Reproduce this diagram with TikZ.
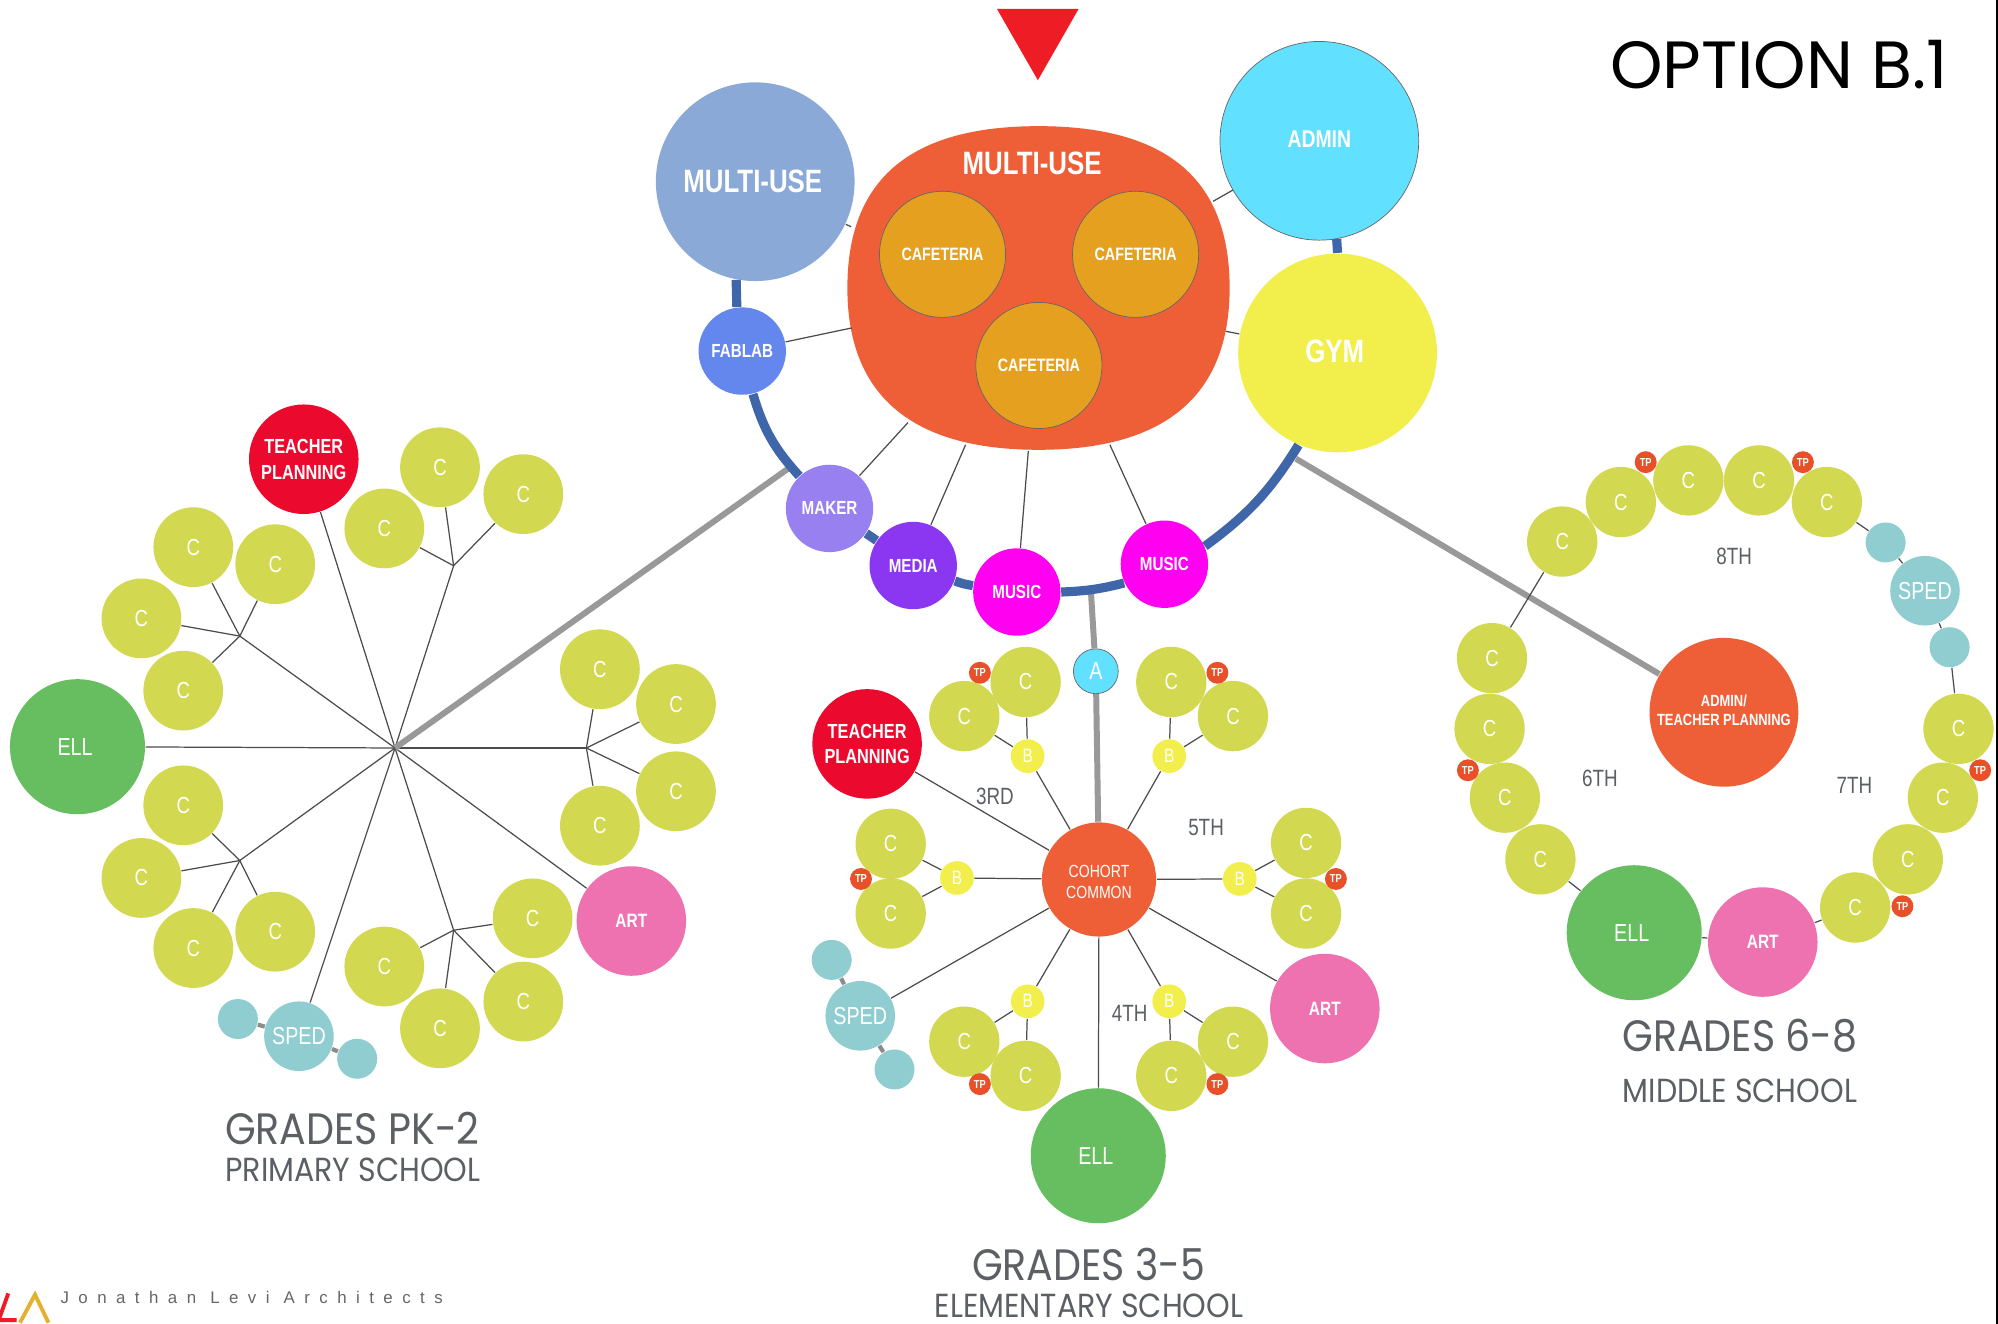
\documentclass[tikz,border=0pt]{standalone}
\usepackage{fontspec}
\setmainfont{Liberation Sans}
\newfontfamily\lblfont[FakeStretch=0.8]{Liberation Sans}
\newfontfamily\titlefont{Poppins}
\newfontfamily\gradefont[FakeStretch=0.9]{Poppins}
\newfontfamily\logofont[LetterSpace=56]{Liberation Sans}
\definecolor{cgreen}{HTML}{D2D84F}
\definecolor{ellgreen}{HTML}{66BE60}
\definecolor{artpink}{HTML}{EE72B0}
\definecolor{spedblue}{HTML}{8FCDD1}
\definecolor{planred}{HTML}{EB0A2D}
\definecolor{blobred}{HTML}{EF5F37}
\definecolor{byellow}{HTML}{F2EE4B}
\definecolor{tpred}{HTML}{E8502A}
\definecolor{cafe}{HTML}{E5A020}
\definecolor{multiblue}{HTML}{8AA9D6}
\definecolor{fabblue}{HTML}{6487EE}
\definecolor{makerpur}{HTML}{9880F0}
\definecolor{mediapur}{HTML}{8B36F0}
\definecolor{musicpink}{HTML}{FF00F0}
\definecolor{adminblue}{HTML}{62E0FF}
\definecolor{ringblue}{HTML}{3F66A8}
\definecolor{roadgrey}{HTML}{999999}
\definecolor{textgrey}{HTML}{5C6064}
\definecolor{arrowred}{HTML}{EE1C25}
\definecolor{logoyellow}{HTML}{E5B030}
\tikzset{
	rnd/.style={circle,inner sep=0pt,minimum size=#1*0.7248pt,text=white,align=center},
	lbl/.style={font=\lblfont\fontsize{#1}{#1}\selectfont},
	blbl/.style={font=\lblfont\bfseries\fontsize{#1}{#1}\selectfont},
	bigroom/.style={rnd=78,fill=#1,blbl=9.2},
	stopnode/.style={rnd=34.3,fill=#1,blbl=5.4},
	cnode/.style={rnd=31.3,fill=cgreen,lbl=6.6},
	cmid/.style={rnd=27.6,fill=cgreen,lbl=6.6},
	bnode/.style={rnd=13.2,fill=byellow,lbl=5.5},
	tpnode/.style={rnd=8.6,fill=tpred,blbl=3.3},
	cafenode/.style={rnd=49.5,fill=cafe,draw=black!60,line width=0.2pt,blbl=5.1},
	ellnode/.style={rnd=53,fill=ellgreen,lbl=7},
	artnode/.style={rnd=43,fill=artpink,blbl=5.5},
	planode/.style={rnd=43,fill=planred,font=\lblfont\bfseries\fontsize{5.8}{7.3}\selectfont},
	spednode/.style={rnd=27.3,fill=spedblue,lbl=7},
	spedsub/.style={rnd=15.7,fill=spedblue},
	gradelbl/.style={text=textgrey,lbl=6.7},
	gradetitle/.style={text=textgrey,font=\gradefont\fontsize{#1}{#1}\selectfont},
	thinline/.style={draw=black!70,line width=0.35pt},
	roadline/.style={draw=roadgrey,line width=1.7pt},
	ringline/.style={draw=ringblue,line width=2.6pt},
	spedline/.style={draw=black!45,line width=1.2pt}
}
\begin{document}
\begin{tikzpicture}[x=0.012742cm,y=-0.012742cm]
	\useasboundingbox (0,0) rectangle (1568,1039);
	\fill[white] (0,0) rectangle (1568,1039);
	\fill[black] (1566.6,0) rectangle (1568,1039);
	\fill[arrowred] (782.4,7) -- (846.5,7) -- (814.5,63) -- cycle;
	\node[text=black,font=\titlefont\fontsize{19}{19}\selectfont] (optiontitle) at (1396,51) {OPTION B.1};

	% main ring
	\fill[blobred] (815,99) .. controls (915,99) and (965,140) .. (965,226)
		.. controls (965,310) and (915,353) .. (815,353)
		.. controls (715,353) and (665,310) .. (665,226)
		.. controls (665,140) and (715,99) .. (815,99) -- cycle;
	\node[text=white,blbl=9.2] (blobtext) at (810,128) {MULTI-USE};
	\node[cafenode] (cafea) at (739.7,199.6) {CAFETERIA};
	\node[cafenode] (cafeb) at (891.2,199.6) {CAFETERIA};
	\node[cafenode] (cafec) at (815.3,286.8) {\raisebox{-0.7pt}{CAFETERIA}};
	\node[bigroom=multiblue] (multi) at (592.7,142.6) {MULTI-USE\kern1.4pt};
	\node[bigroom=adminblue,draw=black!60,line width=0.2pt,blbl=6.9] (admin) at (1035.4,110.5) {\raisebox{1pt}{ADMIN}};
	\node[bigroom=byellow] (gym) at (1049.7,277) {\raisebox{1pt}{GYM}\kern1.6pt};
	\node[stopnode=fabblue] (fablab) at (582.5,275.5) {FABLAB};
	\node[stopnode=makerpur] (maker) at (651,399) {MAKER};
	\node[stopnode=mediapur] (media) at (716.7,443.8) {MEDIA};
	\node[stopnode=musicpink] (musica) at (798,464.6) {MUSIC};
	\node[stopnode=musicpink] (musicb) at (913.8,442.8) {MUSIC};
	\coordinate (bmul) at (668,178);
	\coordinate (bfab) at (668.7,257.3);
	\coordinate (badm) at (952,158);
	\coordinate (bgym) at (962,260);
	\coordinate (bmak) at (712.6,331.6);
	\coordinate (bmed) at (757.8,349);
	\coordinate (bmua) at (807,354);
	\coordinate (bmub) at (871,349);
	\foreach \a/\b in {multi/bmul,fablab/bfab,admin/badm,gym/bgym,maker/bmak,media/bmed,musica/bmua,musicb/bmub}
	{
		\draw[thinline] (\a) -- (\b);
	}
	\coordinate (ringl) at (621,366);
	\coordinate (ringr) at (1017,360);
	\coordinate (ringm) at (856,462);

	% primary school
	\coordinate (hub) at (310,587);
	\coordinate (jtop) at (356,444);
	\coordinate (jul) at (188.2,499.2);
	\coordinate (jll) at (188.2,675.3);
	\coordinate (jbot) at (356,730);
	\coordinate (jrt) at (460.2,587);
	\foreach \n/\x/\y in {pa/301.6/414.7,pb/345.3/366.7,pc/410.7/387.8,pd/151.7/429.4,pe/216/442.8,pf/111/485.3,pg/143.8/542,ph/143.8/632,pi/111/689,pj/151.7/744,pk/216/731.2,pl/301.6/758.5,pm/345.3/807,pn/410.7/786,po/418/720.7,pq/470.8/525.2,pr/530.5/552.5,ps/530.5/621,pt/470.8/648}
	{
		\node[cnode] (\n) at (\x,\y) {C};
	}
	\node[ellnode] (pell) at (60.8,586) {ELL\kern1.4pt};
	\node[planode] (pplan) at (238.4,360.4) {TEACHER\\PLANNING};
	\node[artnode] (part) at (495.5,722.8) {ART};
	\node[spednode] (psped) at (234.6,813.2) {SPED};
	\node[spedsub] (pspa) at (186.7,799.7) {};
	\node[spedsub] (pspb) at (280.3,830.9) {};
	\foreach \a/\b in {hub/pplan,hub/jtop,hub/jul,hub/pell,hub/jll,hub/psped,hub/jbot,hub/part,hub/jrt,jtop/pa,jtop/pb,jtop/pc,jul/pd,jul/pe,jul/pf,jul/pg,jll/ph,jll/pi,jll/pj,jll/pk,jbot/pl,jbot/pm,jbot/pn,jbot/po,jrt/pq,jrt/pr,jrt/ps,jrt/pt}
	{
		\draw[thinline] (\a) -- (\b);
	}
	\draw[spedline] (psped) -- (pspa);
	\draw[spedline] (psped) -- (pspb);
	\draw[roadline] (hub) -- (ringl);
	\node[gradetitle=12.5] (pgrade) at (276.5,886) {GRADES PK-2};
	\node[gradetitle=9.5] (pname) at (276.9,918) {PRIMARY SCHOOL};

	% elementary school
	\node[rnd=44.8,fill=blobred,font=\lblfont\fontsize{5}{6}\selectfont] (cohort) at (862.5,690.2) {\rule{0pt}{5pt}COHORT\\COMMON};
	\node[rnd=17.6,fill=adminblue,draw=black!60,line width=0.2pt,lbl=7] (acirc) at (860,526.8) {A};
	\node[planode] (eplan) at (680.5,583.8) {TEACHER\\PLANNING};
	\node[ellnode] (eell) at (861.9,907) {ELL\kern1.4pt};
	\node[artnode] (eart) at (1039.7,791.5) {ART};
	\node[spednode] (esped) at (675.1,797.2) {SPED};
	\node[spedsub] (espa) at (652.7,753.3) {};
	\node[spedsub] (espb) at (702,839.3) {};
	\foreach \n/\x/\y/\ca/\xa/\ya/\cb/\xb/\yb/\xt/\yt in {
		ba/806.5/593.4/eca/804.9/535.2/ecb/756.8/562/769/528,
		bb/917.6/593.4/ecc/919.2/535.2/ecd/967.6/562/955.4/528,
		bc/751/689/ece/699/662.2/ecf/699/716.9/675.7/689.8,
		bd/973/689.8/ecg/1025/661.5/ech/1025/716.9/1048.4/689.8,
		be/806.5/785.8/eci/756.8/817.5/ecj/804.9/844.3/769/850.8,
		bf/917.6/785.8/eck/967.6/817.5/ecl/919.2/844.3/955.4/850.8}
	{
		\node[bnode] (\n) at (\x,\y) {B};
		\node[cmid] (\ca) at (\xa,\ya) {C};
		\node[cmid] (\cb) at (\xb,\yb) {C};
		\node[tpnode] (t\n) at (\xt,\yt) {TP};
		\draw[thinline] (\n) -- (\ca);
		\draw[thinline] (\n) -- (\cb);
		\draw[thinline] (cohort) -- (\n);
	}
	\foreach \b in {eplan,eell,eart,esped}
	{
		\draw[thinline] (cohort) -- (\b);
	}
	\draw[spedline] (esped) -- (espa);
	\draw[spedline] (esped) -- (espb);
	\draw[roadline] (ringm) -- (acirc);
	\draw[roadline] (acirc) -- (cohort);
	\node[gradelbl] (third) at (780.8,625) {3RD};
	\node[gradelbl] (fifth) at (946.5,649.2) {5TH};
	\node[gradelbl] (fourth) at (886.6,795.3) {4TH};
	\node[gradetitle=12.5] (egrade) at (854.5,992) {GRADES 3-5};
	\node[gradetitle=9.5] (ename) at (854.5,1024.8) {ELEMENTARY SCHOOL};

	% middle school
	\foreach \n/\x/\y in {ma/1226/425,mb/1272/394,mc/1325/377,md/1380.4/377,me/1433.7/394,mf/1170.9/516.5,mg/1169/572,mh/1181/626,mi/1208.9/674.4,mj/1537/572,mk/1524.7/626,ml/1497.2/674.4,mm/1455.9/712.2}
	{
		\node[cmid] (\n) at (\x,\y) {C};
	}
	\foreach \n/\x/\y in {mta/1291.5/362.7,mtb/1414.9/362.7,mtc/1152/604.5,mtd/1554/604.5,mte/1493/711.2}
	{
		\node[tpnode] (\n) at (\x,\y) {TP};
	}
	\node[rnd=58.4,fill=blobred,font=\lblfont\bfseries\fontsize{4.6}{5.3}\selectfont] (mplan) at (1352.9,559) {\raisebox{1.2pt}{ADMIN/}\\\raisebox{1.2pt}{TEACHER PLANNING}};
	\node[ellnode] (mell) at (1282.5,732) {ELL\kern1.4pt};
	\node[artnode] (mart) at (1383.4,739.3) {ART};
	\node[spednode] (msped) at (1510.7,463.6) {SPED};
	\node[spedsub] (mspa) at (1479.8,425.7) {};
	\node[spedsub] (mspb) at (1530,507.9) {};
	\draw[roadline] (ringr) -- (mplan);
	\foreach \a/\b in {ma/mf,mi/mell,mell/mart,mart/mm,me/mspa,mspa/msped,msped/mspb,mspb/mj}
	{
		\draw[thinline] (\a) -- (\b);
	}
	\node[gradelbl] (eighth) at (1361,436.5) {8TH};
	\node[gradelbl] (sixth) at (1255.6,610.6) {6TH};
	\node[gradelbl] (seventh) at (1455.3,616.7) {7TH};
	\node[gradetitle=12.5] (mgrade) at (1365.5,813) {GRADES 6-8};
	\node[gradetitle=9.5] (mname) at (1365.5,855.7) {MIDDLE SCHOOL};

	% ring on top of the roads
	\draw[ringline] (multi.259) -- (fablab.97);
	\draw[ringline] (fablab.284) to[bend right=13] (maker.133);
	\draw[ringline] (maker) -- (media);
	\draw[ringline] (media) to[bend right=6] (musica);
	\draw[ringline] (musica.0) to[bend right=6] (musicb.205);
	\draw[ringline] (musicb.24) to[bend right=11] (gym.247);
	\draw[ringline] (admin.280) -- (gym.90);

	% logo
	\begin{scope}
		\clip (0,0) rectangle (1568,1039);
		\draw[arrowred,line width=1.1pt] (6.5,1015) -- (-1,1036) -- (13,1036);
		\draw[logoyellow,line width=1.1pt] (15.7,1038) -- (27.5,1016) -- (38,1038);
	\end{scope}
	\node[anchor=west,inner sep=0pt,text=black!60,font=\logofont\fontsize{4.8}{4.8}\selectfont] (logotext) at (47,1018) {Jonathan Levi Architects};
\end{tikzpicture}
\end{document}
